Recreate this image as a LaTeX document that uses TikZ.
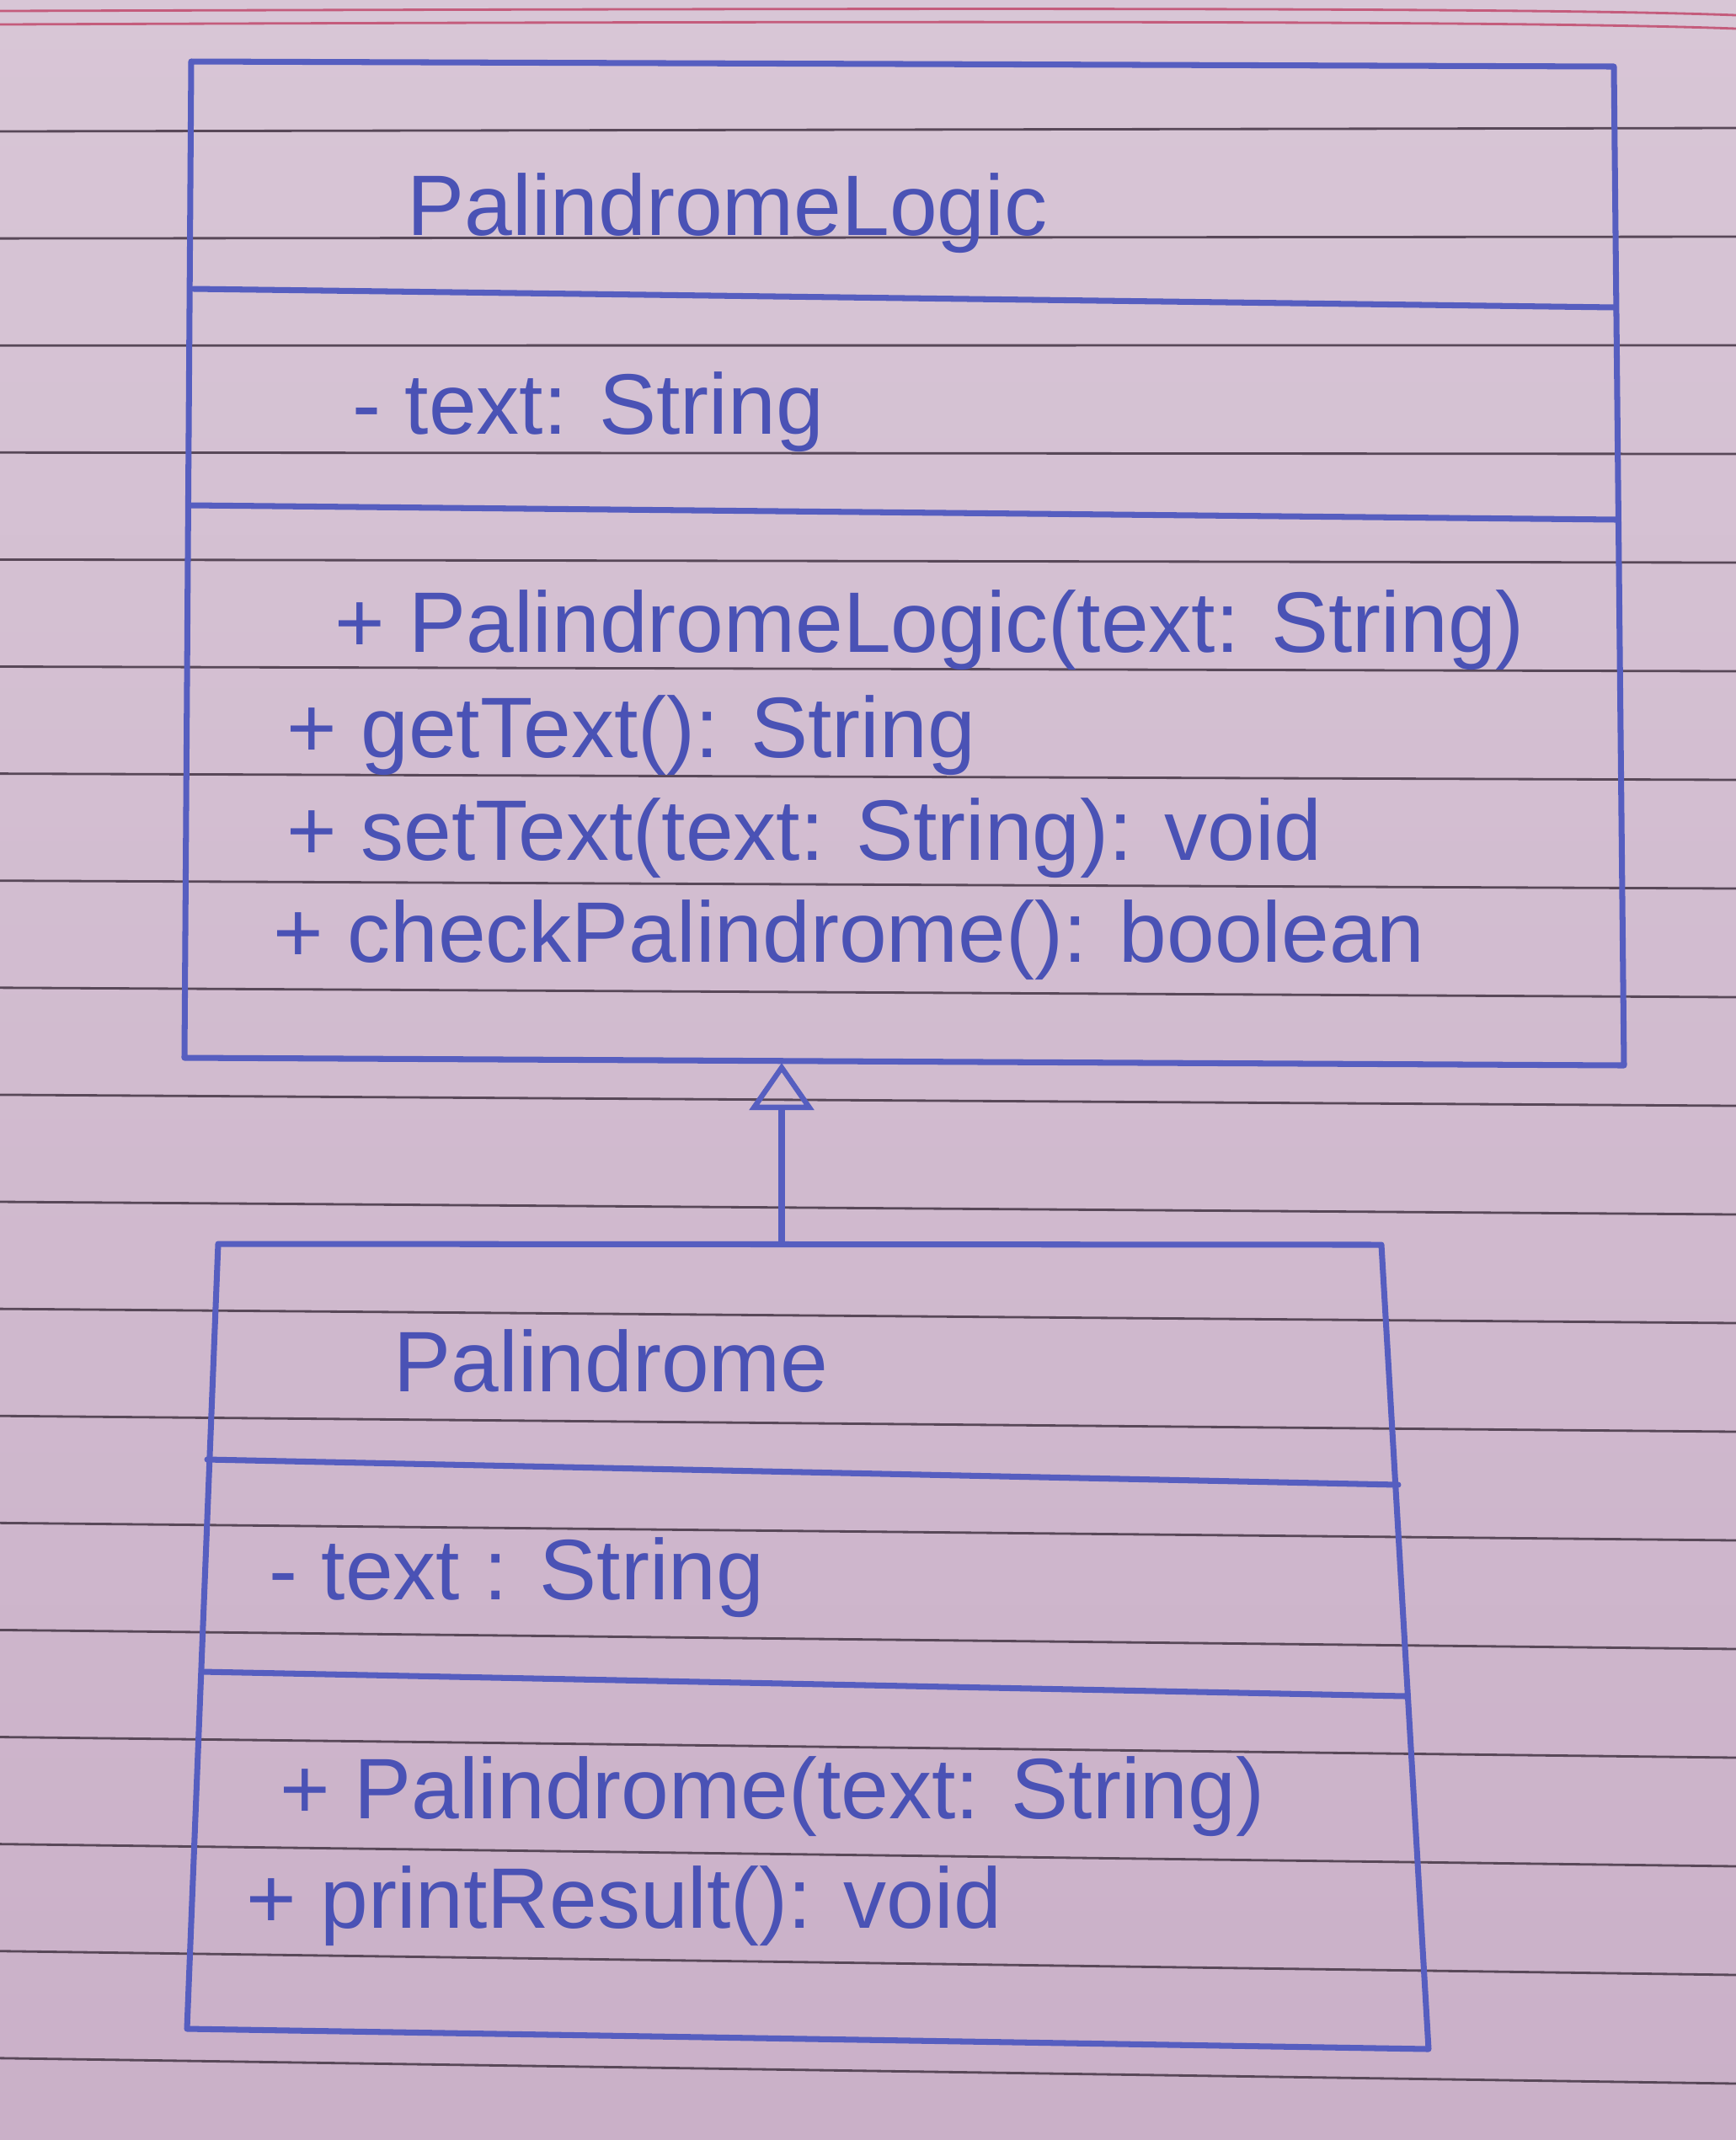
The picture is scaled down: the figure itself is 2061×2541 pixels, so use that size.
\documentclass[tikz,border=0pt]{standalone}
\usepackage{fontspec}
\setmainfont{Liberation Sans}
\usetikzlibrary{arrows.meta}

\definecolor{paper}{RGB}{216,198,214}
\definecolor{paperlow}{RGB}{202,176,200}
\definecolor{rule}{RGB}{88,72,88}
\definecolor{margin}{RGB}{196,92,124}
\definecolor{ink}{RGB}{74,82,181}
\definecolor{boxink}{RGB}{86,94,192}

\tikzset{
  umltext/.style={anchor=base west, inner sep=0pt, text=ink,
    font=\fontsize{29}{35}\selectfont},
  boxline/.style={draw=boxink, line width=2pt, line join=round, line cap=round},
  ruled/.style={draw=rule, line width=0.8pt},
  marginline/.style={draw=margin, line width=0.8pt},
  inherits/.style={boxline, -{Triangle[open, length=0.56cm, width=0.76cm, line width=1.8pt]}}
}

\begin{document}
\begin{tikzpicture}[x=0.01cm, y=-0.01cm]
  \useasboundingbox (0,0) rectangle (2061,2541);

  % notebook paper
  \shade[top color=paper, bottom color=paperlow] (0,0) rectangle (2061,2541);
  \draw[marginline] (0,13) .. controls (1000,10) and (1800,8) .. (2061,18);
  \draw[marginline] (0,29) .. controls (1000,25) and (1800,24) .. (2061,34);
  \foreach \k in {0,...,18}{
    \pgfmathsetmacro{\yl}{156+127.1*\k}
    \pgfmathsetmacro{\yr}{\yl-4+1.9*\k}
    \draw[ruled] (0,\yl) -- (2061,\yr);
  }

  % class PalindromeLogic
  \coordinate (lTL) at (227,73);
  \coordinate (lTR) at (1916,79);
  \coordinate (lBR) at (1928,1265);
  \coordinate (lBL) at (219,1256);
  \draw[boxline] (lTL) -- (lTR) -- (lBR) -- (lBL) -- cycle;
  \draw[boxline] (230,343) -- (1918,365);
  \draw[boxline] (227,600) -- (1920,617);

  \node[umltext] (lname) at (483,279) {PalindromeLogic};
  \node[umltext] (lattr) at (418,515) {- text: String};
  \node[umltext] (lm1) at (397,774) {+ PalindromeLogic(text: String)};
  \node[umltext] (lm2) at (340,899) {+ getText(): String};
  \node[umltext] (lm3) at (340,1021) {+ setText(text: String): void};
  \node[umltext] (lm4) at (324,1142) {+ checkPalindrome(): boolean};

  % class Palindrome
  \coordinate (pTL) at (259,1477);
  \coordinate (pTR) at (1640,1478);
  \coordinate (pBR) at (1696,2433);
  \coordinate (pBL) at (222,2409);
  \draw[boxline] (pTL) -- (pTR) -- (pBR) -- (pBL) -- cycle;
  \draw[boxline] (246,1733) -- (1660,1763);
  \draw[boxline] (240,1985) -- (1669,2014);

  \node[umltext] (pname) at (467,1652) {Palindrome};
  \node[umltext] (pattr) at (319,1899) {- text : String};
  \node[umltext] (pm1) at (332,2159) {+ Palindrome(text: String)};
  \node[umltext] (pm2) at (292,2289) {+ printResult(): void};

  % generalization
  \coordinate (gen) at (928,1262);
  \coordinate (sub) at (928,1477);
  \draw[inherits] (sub) -- (gen);
\end{tikzpicture}
\end{document}
